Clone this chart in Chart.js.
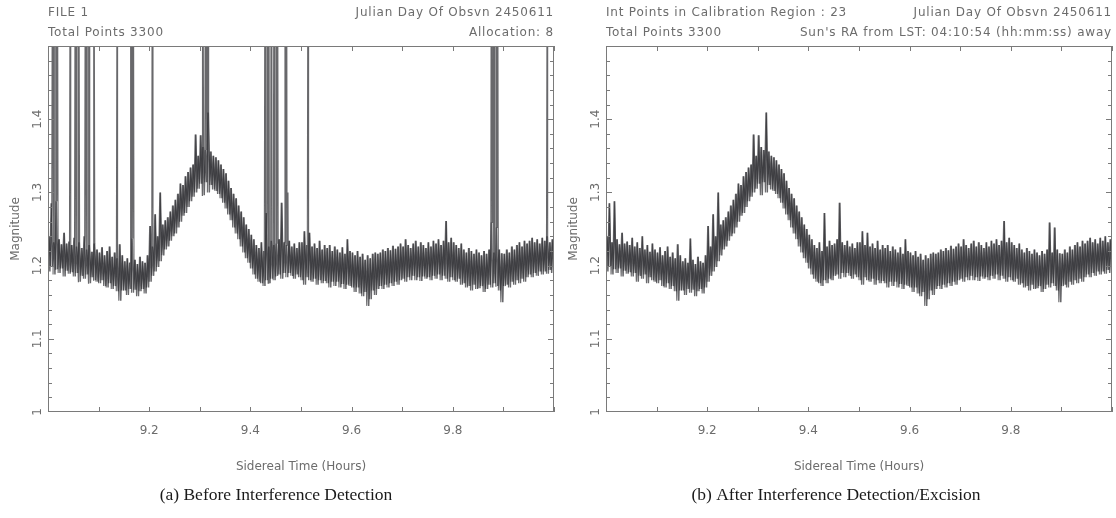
<!DOCTYPE html>
<html>
<head>
<meta charset="utf-8">
<script src="https://cdn.jsdelivr.net/npm/chart.js@4.4.1/dist/chart.umd.min.js"></script>
<style>
  html, body { margin: 0; padding: 0; background: #fff; }
  #wrap { position: relative; width: 1116px; height: 518px; }
  .panel { position: absolute; top: 0; width: 558px; height: 518px; }
</style>
</head>
<body>
<div id="wrap">
  <div class="panel" style="left:0"><canvas id="before" width="558" height="518"></canvas></div>
  <div class="panel" style="left:558px"><canvas id="after" width="558" height="518"></canvas></div>
</div>
<script>
// light curve, 0.005 h bins from 9.00 h: low and high excursion of the magnitude in each bin
const binStart = 9.0;
const binWidth = 0.005;

const bandHigh = [
  1.240, 1.285, 1.232, 1.288, 1.236, 1.229, 1.245, 1.230, 1.233, 1.228,
  1.238, 1.226, 1.232, 1.224, 1.240, 1.222, 1.228, 1.219, 1.230, 1.222,
  1.218, 1.225, 1.214, 1.220, 1.226, 1.212, 1.218, 1.210, 1.229, 1.214,
  1.206, 1.210, 1.204, 1.237, 1.208, 1.202, 1.212, 1.206, 1.204, 1.214,
  1.254, 1.226, 1.270, 1.240, 1.300, 1.256, 1.262, 1.266, 1.274, 1.282,
  1.290, 1.298, 1.312, 1.310, 1.322, 1.328, 1.334, 1.338, 1.379, 1.350,
  1.378, 1.362, 1.358, 1.409, 1.356, 1.350, 1.348, 1.344, 1.338, 1.332,
  1.326, 1.316, 1.306, 1.298, 1.292, 1.282, 1.274, 1.266, 1.256, 1.250,
  1.242, 1.236, 1.228, 1.224, 1.232, 1.220, 1.272, 1.226, 1.234, 1.228,
  1.230, 1.236, 1.286, 1.232, 1.228, 1.234, 1.226, 1.230, 1.224, 1.232,
  1.232, 1.247, 1.228, 1.245, 1.226, 1.230, 1.224, 1.234, 1.222, 1.228,
  1.224, 1.228, 1.220, 1.226, 1.222, 1.218, 1.225, 1.216, 1.236, 1.220,
  1.218, 1.214, 1.220, 1.212, 1.216, 1.208, 1.214, 1.210, 1.216, 1.218,
  1.216, 1.218, 1.222, 1.220, 1.224, 1.221, 1.227, 1.223, 1.226, 1.230,
  1.226, 1.236, 1.228, 1.224, 1.230, 1.234, 1.226, 1.232, 1.228, 1.224,
  1.232, 1.226, 1.234, 1.230, 1.236, 1.228, 1.234, 1.261, 1.232, 1.238,
  1.232, 1.228, 1.224, 1.230, 1.222, 1.218, 1.224, 1.220, 1.216, 1.222,
  1.218, 1.214, 1.220, 1.216, 1.222, 1.259, 1.218, 1.252, 1.222, 1.217,
  1.216, 1.222, 1.218, 1.226, 1.222, 1.228, 1.232, 1.226, 1.234, 1.230,
  1.234, 1.238, 1.232, 1.236, 1.230, 1.238, 1.234, 1.240, 1.232, 1.236
];

const bandLow = [
  1.192, 1.198, 1.188, 1.195, 1.190, 1.196, 1.185, 1.193, 1.189, 1.191,
  1.185, 1.190, 1.178, 1.186, 1.182, 1.188, 1.176, 1.184, 1.180, 1.178,
  1.176, 1.180, 1.172, 1.170, 1.176, 1.168, 1.172, 1.165, 1.152, 1.166,
  1.166, 1.160, 1.168, 1.163, 1.167, 1.158, 1.165, 1.168, 1.162, 1.170,
  1.178, 1.186, 1.192, 1.198, 1.206, 1.214, 1.222, 1.226, 1.234, 1.240,
  1.244, 1.252, 1.260, 1.268, 1.272, 1.280, 1.288, 1.294, 1.300, 1.305,
  1.312, 1.296, 1.314, 1.300, 1.310, 1.304, 1.302, 1.298, 1.292, 1.286,
  1.278, 1.270, 1.262, 1.252, 1.244, 1.236, 1.226, 1.218, 1.210, 1.204,
  1.196, 1.188, 1.182, 1.178, 1.176, 1.172, 1.180, 1.176, 1.182, 1.180,
  1.186, 1.188, 1.182, 1.190, 1.184, 1.190, 1.186, 1.182, 1.188, 1.184,
  1.180, 1.174, 1.184, 1.180, 1.178, 1.182, 1.174, 1.180, 1.176, 1.179,
  1.176, 1.170, 1.178, 1.172, 1.178, 1.170, 1.175, 1.168, 1.174, 1.172,
  1.170, 1.164, 1.170, 1.162, 1.158, 1.164, 1.145, 1.154, 1.166, 1.160,
  1.168, 1.172, 1.168, 1.174, 1.170, 1.176, 1.172, 1.178, 1.174, 1.180,
  1.182, 1.178, 1.184, 1.180, 1.186, 1.180, 1.184, 1.179, 1.185, 1.182,
  1.184, 1.180, 1.186, 1.182, 1.188, 1.180, 1.186, 1.182, 1.178, 1.184,
  1.180, 1.178, 1.182, 1.174, 1.176, 1.170, 1.172, 1.166, 1.174, 1.168,
  1.169, 1.172, 1.164, 1.168, 1.174, 1.170, 1.176, 1.172, 1.166, 1.150,
  1.172, 1.174, 1.170, 1.178, 1.174, 1.180, 1.176, 1.182, 1.178, 1.184,
  1.188, 1.184, 1.190, 1.186, 1.192, 1.188, 1.192, 1.189, 1.194, 1.190
];

// interference spikes present before excision (sidereal hours, magnitude reached)
const spikeTimes = [
  9.0093, 9.0123, 9.0153, 9.0183, 9.0443, 9.0543, 9.0573, 9.0603,
  9.0743, 9.0773, 9.0803, 9.0823, 9.0903, 9.1373, 9.1633, 9.1663,
  9.1683, 9.2063, 9.3053, 9.3113, 9.3143, 9.3173, 9.4293, 9.4333,
  9.4363, 9.4413, 9.4473, 9.4503, 9.4533, 9.4683, 9.4713, 9.4743,
  9.5143, 9.8763, 9.8793, 9.8823, 9.8853, 9.8883, 9.9873
];
const spikeMags = [
  1.90, 1.90, 1.90, 1.90, 1.90, 1.90, 1.90, 1.90,
  1.90, 1.90, 1.90, 1.90, 1.90, 1.90, 1.90, 1.90,
  1.90, 1.90, 1.90, 1.90, 1.90, 1.90, 1.90, 1.90,
  1.90, 1.90, 1.90, 1.90, 1.90, 1.90, 1.90, 1.30,
  1.90, 1.90, 1.90, 1.90, 1.90, 1.90, 1.90
];

const xTickLabels = ['9.2', '9.4', '9.6', '9.8'];
const yTickLabels = ['1', '1.1', '1.2', '1.3', '1.4'];

const axisFont = '"DejaVu Sans", sans-serif';
const ink = '#6c6c6c';
const trace = 'rgba(46, 46, 50, 0.72)';

// each bin drawn as a min/max stroke; the second pass runs high->low a quarter bin later,
// so the strokes interleave into a dense band like the full sampled record
function bandPoints(rising) {
  const pts = [];
  const shift = rising ? 0 : binWidth / 4;
  for (let i = 0; i < bandHigh.length; i++) {
    const t = binStart + i * binWidth + shift;
    const first = rising ? bandLow[i] : bandHigh[i];
    const second = rising ? bandHigh[i] : bandLow[i];
    pts.push({ x: t, y: first });
    pts.push({ x: t + binWidth / 2, y: second });
  }
  return pts;
}

function withSpikes(pts) {
  const extra = spikeTimes.map((t, i) => ({ x: t, y: spikeMags[i] }));
  return pts.concat(extra).sort((a, b) => a.x - b.x);
}

function traceSet(points, width) {
  return {
    data: points,
    borderColor: trace,
    borderWidth: width,
    pointRadius: 0,
    tension: 0,
    fill: false
  };
}

// box, inward tick marks, header lines and the sub-caption
const panelDecor = {
  id: 'panelDecor',
  afterDatasetsDraw(chart) {
    const { ctx, chartArea: a, scales: { x, y } } = chart;
    ctx.save();
    ctx.strokeStyle = '#7a7a7a';
    ctx.lineWidth = 1;
    ctx.strokeRect(a.left + 0.5, a.top + 0.5, a.right - a.left - 1, a.bottom - a.top - 1);
    ctx.beginPath();
    x.ticks.forEach(t => {
      const px = Math.round(x.getPixelForValue(t.value)) + 0.5;
      ctx.moveTo(px, a.bottom); ctx.lineTo(px, a.bottom - 5);
      ctx.moveTo(px, a.top); ctx.lineTo(px, a.top + 5);
    });
    for (let k = 1; k < 25; k++) {
      const py = Math.round(y.getPixelForValue(1 + k * 0.02)) + 0.5;
      const len = k % 5 === 0 ? 6 : 4;
      ctx.moveTo(a.left, py); ctx.lineTo(a.left + len, py);
      ctx.moveTo(a.right, py); ctx.lineTo(a.right - len, py);
    }
    ctx.stroke();
    ctx.restore();
  },
  afterDraw(chart, args, opts) {
    const { ctx, chartArea: a } = chart;
    ctx.save();
    ctx.font = '12px ' + axisFont;
    ctx.fillStyle = ink;
    ctx.textBaseline = 'middle';
    ctx.letterSpacing = '0.8px';
    ctx.textAlign = 'left';
    ctx.fillText(opts.topLeft, a.left, 13);
    ctx.fillText(opts.bottomLeft, a.left, 33);
    ctx.textAlign = 'right';
    ctx.fillText(opts.topRight, a.right, 13);
    ctx.fillText(opts.bottomRight, a.right, 33);
    ctx.letterSpacing = '0px';
    ctx.font = '17.5px "Liberation Serif", serif';
    ctx.fillStyle = '#1a1a1a';
    ctx.textAlign = 'center';
    ctx.fillText(opts.caption, opts.captionX, 495);
    ctx.restore();
  }
};

function makePanel(id, datasets, text) {
  return new Chart(document.getElementById(id), {
    type: 'line',
    data: { datasets },
    options: {
      responsive: false,
      animation: false,
      events: [],
      layout: { padding: { left: 0, top: 46, right: 4, bottom: 36 } },
      plugins: {
        legend: { display: false },
        tooltip: { enabled: false },
        panelDecor: text
      },
      scales: {
        x: {
          type: 'linear',
          min: 9.0,
          max: 10.0,
          grid: { display: false },
          border: { display: false },
          ticks: {
            stepSize: 0.1,
            autoSkip: false,
            maxRotation: 0,
            padding: 4,
            color: ink,
            font: { family: axisFont, size: 12 },
            callback: v => {
              const s = (Math.round(v * 10) / 10).toFixed(1);
              return xTickLabels.includes(s) ? s : '';
            }
          },
          title: {
            display: true,
            text: 'Sidereal Time (Hours)',
            color: ink,
            font: { family: axisFont, size: 12 },
            padding: { top: 4, bottom: 8 }
          },
          afterFit: s => { s.height = 70; }
        },
        y: {
          type: 'linear',
          min: 1.0,
          max: 1.5,
          grid: { display: false },
          border: { display: false },
          ticks: {
            stepSize: 0.1,
            minRotation: 90,
            maxRotation: 90,
            crossAlign: 'center',
            padding: -7,
            color: ink,
            font: { family: axisFont, size: 12 },
            callback: v => {
              const s = String(Math.round(v * 10) / 10);
              return yTickLabels.includes(s) ? s : '';
            }
          },
          title: {
            display: true,
            text: 'Magnitude',
            color: ink,
            font: { family: axisFont, size: 12 },
            padding: { top: 9, bottom: 0 }
          },
          afterFit: s => { s.width = 48; }
        }
      }
    },
    plugins: [panelDecor]
  });
}

makePanel('before', [
  traceSet(withSpikes(bandPoints(true)), 1.1),
  traceSet(bandPoints(false), 1.5)
], {
  topLeft: 'FILE 1',
  bottomLeft: 'Total Points 3300',
  topRight: 'Julian Day Of Obsvn 2450611',
  bottomRight: 'Allocation: 8',
  caption: '(a) Before Interference Detection',
  captionX: 276
});

makePanel('after', [
  traceSet(bandPoints(true), 1.1),
  traceSet(bandPoints(false), 1.5)
], {
  topLeft: 'Int Points in Calibration Region : 23',
  bottomLeft: 'Total Points 3300',
  topRight: 'Julian Day Of Obsvn 2450611',
  bottomRight: "Sun's RA from LST: 04:10:54 (hh:mm:ss) away",
  caption: '(b) After Interference Detection/Excision',
  captionX: 278
});
</script>
</body>
</html>
